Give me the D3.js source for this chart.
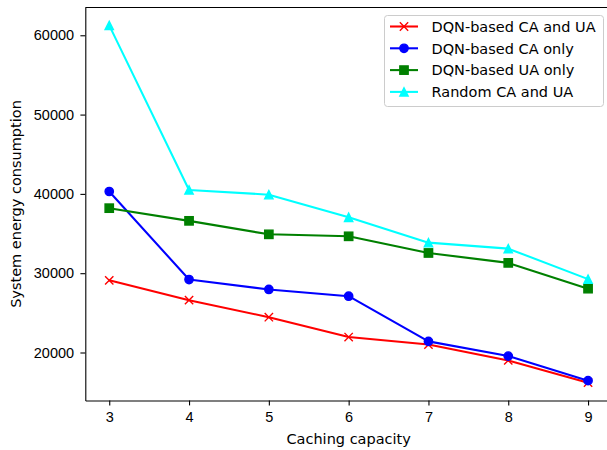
<!DOCTYPE html>
<html>
<head>
<meta charset="utf-8">
<script src="https://cdn.jsdelivr.net/npm/d3@7"></script>
<style>
	body { margin: 0; background: #fff; }
	svg { display: block; font-family: "DejaVu Sans", sans-serif; }
	.axis text { font-size: 14.5px; fill: #000; }
	.axis path, .axis line { stroke: #000; stroke-width: 1.1px; }
</style>
</head>
<body>
<div id="root"></div>
<script>
// caching capacity on the x axis
const capacity = [3, 4, 5, 6, 7, 8, 9];
const dqnCaUa = [29100, 26600, 24450, 21950, 21000, 19000, 16200];
const dqnCaOnly = [40300, 29200, 27950, 27100, 21400, 19550, 16450];
const dqnUaOnly = [38200, 36600, 34900, 34650, 32550, 31300, 28050];
const randomCaUa = [61250, 40500, 39900, 37050, 33850, 33100, 29250];
const seriesNames = ["DQN-based CA and UA", "DQN-based CA only", "DQN-based UA only", "Random CA and UA"];
const yTicks = [20000, 30000, 40000, 50000, 60000];

const app = () => {
	const width = 607;
	const height = 450;
	const left = 85.3;
	const right = 612;
	const top = 7.5;
	const bottom = 400.5;

	const series = [
		{ name: seriesNames[0], values: dqnCaUa, color: "#ff0000", marker: "x" },
		{ name: seriesNames[1], values: dqnCaOnly, color: "#0000ff", marker: "o" },
		{ name: seriesNames[2], values: dqnUaOnly, color: "#008000", marker: "s" },
		{ name: seriesNames[3], values: randomCaUa, color: "#00ffff", marker: "^" }
	];

	const chart = d3.select("#root").append("svg").attr("width", width).attr("height", height);

	const x = d3.scaleLinear().domain([2.7, 9.3]).range([left, right]);
	const allVals = series.flatMap((s) => s.values);
	const yMin = d3.min(allVals);
	const yMax = d3.max(allVals);
	const pad = (yMax - yMin) * 0.05;
	const y = d3.scaleLinear().domain([yMin - pad, yMax + pad]).range([bottom, top]);

	chart
		.append("g")
		.attr("class", "axis")
		.attr("transform", "translate(0," + bottom + ")")
		.call(d3.axisBottom(x).tickValues(capacity).tickFormat(d3.format("d")).tickSize(4.9).tickPadding(6.3).tickSizeOuter(0));
	chart
		.append("g")
		.attr("class", "axis")
		.attr("transform", "translate(" + left + ",0)")
		.call(d3.axisLeft(y).tickValues(yTicks).tickFormat(d3.format("d")).tickSize(4.9).tickPadding(6.3).tickSizeOuter(0));

	// top spine (right spine falls outside the picture)
	chart
		.append("line")
		.attr("x1", left)
		.attr("x2", right)
		.attr("y1", top)
		.attr("y2", top)
		.attr("stroke", "#000")
		.attr("stroke-width", 1.1);

	const ms = 8.33;
	const drawMarker = (g, marker, color, cx, cy) => {
		if (marker === "x") {
			g.append("path")
				.attr("d", `M${cx - ms / 2},${cy - ms / 2}L${cx + ms / 2},${cy + ms / 2}M${cx - ms / 2},${cy + ms / 2}L${cx + ms / 2},${cy - ms / 2}`)
				.attr("stroke", color)
				.attr("stroke-width", 1.4)
				.attr("fill", "none");
		} else if (marker === "o") {
			g.append("circle").attr("cx", cx).attr("cy", cy).attr("r", ms / 2)
				.attr("fill", color).attr("stroke", color).attr("stroke-width", 1.4);
		} else if (marker === "s") {
			g.append("rect").attr("x", cx - ms / 2).attr("y", cy - ms / 2).attr("width", ms).attr("height", ms)
				.attr("fill", color).attr("stroke", color).attr("stroke-width", 1.4);
		} else {
			g.append("path")
				.attr("d", `M${cx},${cy - ms / 2}L${cx - ms / 2},${cy + ms / 2}L${cx + ms / 2},${cy + ms / 2}Z`)
				.attr("fill", color).attr("stroke", color).attr("stroke-width", 1.4).attr("stroke-linejoin", "miter");
		}
	};

	const line = d3.line().x((d) => x(d[0])).y((d) => y(d[1]));

	series.forEach((s) => {
		const pts = capacity.map((c, i) => [c, s.values[i]]);
		const g = chart.append("g");
		g.append("path")
			.attr("d", line(pts))
			.attr("fill", "none")
			.attr("stroke", s.color)
			.attr("stroke-width", 2.08)
			.attr("stroke-linejoin", "round");
		pts.forEach((p) => drawMarker(g, s.marker, s.color, x(p[0]), y(p[1])));
	});

	// axis labels
	chart
		.append("text")
		.attr("x", (left + right) / 2)
		.attr("y", 443.5)
		.attr("text-anchor", "middle")
		.style("font-size", "14.5px")
		.text("Caching capacity");
	chart
		.append("text")
		.attr("transform", "translate(20.5," + (top + bottom) / 2 + ") rotate(-90)")
		.attr("text-anchor", "middle")
		.style("font-size", "14.5px")
		.text("System energy consumption");

	// legend
	const legend = chart.append("g");
	legend
		.append("rect")
		.attr("x", 384.5)
		.attr("y", 15.5)
		.attr("width", 219)
		.attr("height", 91)
		.attr("rx", 3)
		.attr("fill", "#fff")
		.attr("fill-opacity", 0.8)
		.attr("stroke", "#cccccc");
	series.forEach((s, i) => {
		const ly = 26.5 + i * 21.8;
		legend
			.append("line")
			.attr("x1", 390)
			.attr("x2", 418)
			.attr("y1", ly)
			.attr("y2", ly)
			.attr("stroke", s.color)
			.attr("stroke-width", 2.08);
		drawMarker(legend, s.marker, s.color, 404, ly);
		legend
			.append("text")
			.attr("x", 431.5)
			.attr("y", ly)
			.attr("dy", "0.36em")
			.style("font-size", "14.5px")
			.text(s.name);
	});
};

app();
</script>
</body>
</html>
